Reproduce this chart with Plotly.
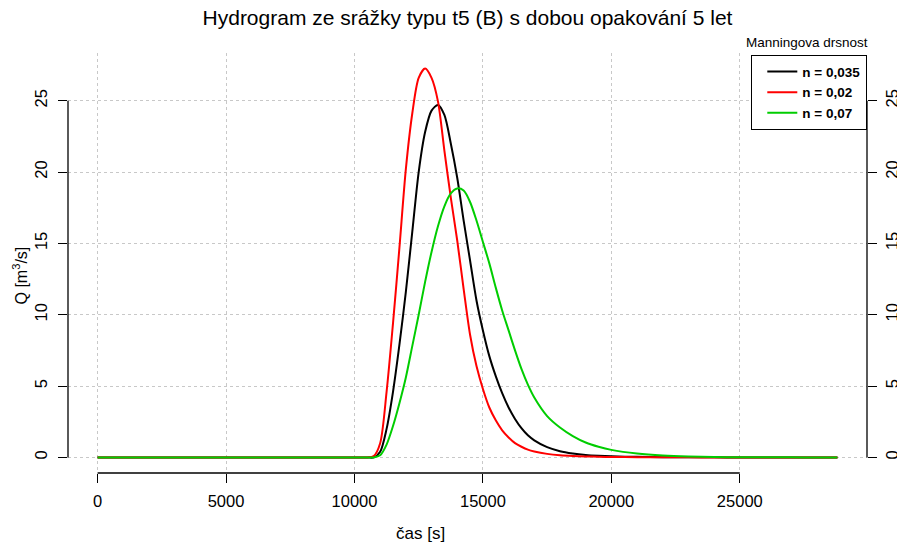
import plotly.graph_objects as go

# ---- data ----
time_s = [0, 2500, 5000, 7500, 10000,
          10500, 10750, 11000, 11250, 11500, 11750, 12000, 12250, 12500, 12750,
          13000, 13250, 13500, 13750, 14000, 14250, 14500, 14750, 15000, 15250,
          15500, 15750, 16000, 16250, 16500, 16750, 17000,
          17500, 18000, 18500, 19000, 19500, 20000,
          21000, 22000, 23000, 24000, 25000, 26000, 27000, 28000, 28800]

q_n035 = [0, 0, 0, 0, 0,
          0, 0.0, 0.4, 2.0, 4.6, 7.9, 11.6, 15.8, 20.0, 22.8,
          24.3, 24.7, 24.0, 22.0, 19.6, 16.6, 13.8, 11.0, 8.9, 7.1,
          5.7, 4.5, 3.5, 2.7, 2.05, 1.55, 1.2,
          0.72, 0.44, 0.28, 0.18, 0.12, 0.08,
          0.04, 0.02, 0.01, 0.005, 0, 0, 0, 0, 0]

q_n02 = [0, 0, 0, 0, 0,
         0, 0.1, 1.0, 4.6, 9.4, 14.7, 20.2, 24.1, 26.6, 27.25,
         26.6, 24.95, 21.5, 18.2, 15.2, 11.8, 8.6, 6.4, 4.8, 3.5,
         2.6, 1.9, 1.4, 1.0, 0.75, 0.55, 0.42,
         0.25, 0.15, 0.1, 0.07, 0.05, 0.03,
         0.02, 0.01, 0.005, 0, 0, 0, 0, 0, 0]

q_n07 = [0, 0, 0, 0, 0,
         0, 0.0, 0.15, 0.9, 2.2, 3.8, 5.6, 7.8, 10.0, 12.3,
         14.4, 16.2, 17.6, 18.5, 18.85, 18.7, 17.9, 16.6, 15.1, 13.6,
         11.9, 10.3, 8.9, 7.5, 6.2, 5.1, 4.2,
         2.9, 2.1, 1.5, 1.05, 0.75, 0.53,
         0.27, 0.13, 0.06, 0.03, 0.015, 0.01, 0.005, 0.002, 0]

series_names = ["n = 0,035", "n = 0,02", "n = 0,07"]
series_colors = ["#000000", "#FF0000", "#00CD00"]

x_ticks = [0, 5000, 10000, 15000, 20000, 25000]
x_tick_labels = ["0", "5000", "10000", "15000", "20000", "25000"]
y_ticks = [0, 5, 10, 15, 20, 25]
y_tick_labels = ["0", "5", "10", "15", "20", "25"]

title_text = "Hydrogram ze srážky typu t5 (B) s dobou opakování 5 let"
x_title = "čas [s]"
y_title = "Q [m<sup>3</sup>/s]"
legend_title = "Manningova drsnost"

# ---- ranges like R (4% extension) ----
xmin, xmax = min(time_s), max(time_s)
all_q = q_n035 + q_n02 + q_n07
ymin, ymax = 0, max(all_q)
xpad = 0.04 * (xmax - xmin)
ypad = 0.04 * (ymax - ymin)
xr = [xmin - xpad, xmax + xpad]
yr = [ymin - ypad, ymax + ypad]

FONT = "Liberation Sans, Arial, sans-serif"
TICK_SIZE = 16.5

# page has an 8px body margin: figure is drawn 8px right/down
OFF = 8
W, H = 905 - OFF, 545 - OFF
PL, PR, PT, PB = 68, 867, 53, 473  # plot area in page pixels
PW, PH = PR - PL, PB - PT

fig = go.Figure()
for name, col, q in zip(series_names, series_colors, [q_n035, q_n02, q_n07]):
    fig.add_trace(go.Scatter(
        x=time_s, y=q, mode="lines", name="<b>" + name + "</b>",
        line=dict(color=col, width=2, shape="spline", smoothing=0.8),
        hoverinfo="x+y",
    ))

# invisible trace to activate right axis
fig.add_trace(go.Scatter(x=[time_s[0]], y=[y_ticks[0]], mode="lines", yaxis="y2",
                         showlegend=False, hoverinfo="skip",
                         line=dict(color="rgba(0,0,0,0)")))

axis_common = dict(
    showgrid=True, gridcolor="#C8C8C8", griddash="dot", gridwidth=1.2,
    zeroline=False, showline=False, automargin=False,
    ticks="outside", ticklen=9, tickwidth=1.3, tickcolor="black",
    tickfont=dict(family=FONT, size=TICK_SIZE, color="black"),
)

fig.update_layout(
    width=W, height=H,
    margin=dict(l=PL - OFF, r=W - (PR - OFF), t=PT - OFF, b=H - (PB - OFF), autoexpand=False),
    paper_bgcolor="white", plot_bgcolor="white",
    font=dict(family=FONT, color="black"),
    title=dict(text=title_text, x=0.5, xref="paper", y=1 - (17.5 - OFF) / H, yref="container",
               xanchor="center", yanchor="middle", automargin=False,
               font=dict(family=FONT, size=21, color="black")),
    xaxis=dict(range=xr, tickvals=x_ticks, ticktext=x_tick_labels, ticklabelstandoff=4,
               **axis_common),
    yaxis=dict(range=yr, tickvals=y_ticks, ticktext=y_tick_labels, tickangle=-90,
               ticklabelstandoff=4, **axis_common),
    yaxis2=dict(range=yr, tickvals=y_ticks, ticktext=y_tick_labels, tickangle=-90,
                overlaying="y", side="right", ticklabelstandoff=1,
                **{**axis_common, "showgrid": False}),
    showlegend=True,
    legend=dict(x=1, xanchor="right", y=(PB - 55) / PH, yanchor="top",
                bgcolor="white", bordercolor="black", borderwidth=1.3,
                font=dict(family=FONT, size=13.5, color="black"),
                indentation=10, tracegroupgap=0),
    shapes=[
        dict(type="line", xref="x", yref="paper", x0=x_ticks[0], x1=x_ticks[-1], y0=0, y1=0,
             line=dict(color="black", width=1.3)),
        dict(type="line", xref="paper", yref="y", x0=0, x1=0, y0=y_ticks[0], y1=y_ticks[-1],
             line=dict(color="black", width=1.3)),
        dict(type="line", xref="paper", yref="y", x0=1, x1=1, y0=y_ticks[0], y1=y_ticks[-1],
             line=dict(color="black", width=1.3)),
    ],
    annotations=[
        dict(text=x_title, xref="paper", yref="paper", x=(420 - PL) / PW, y=(PB - 533) / PH,
             showarrow=False, xanchor="center", yanchor="middle",
             font=dict(family=FONT, size=17, color="black")),
        dict(text=y_title, xref="paper", yref="paper", x=(20.5 - PL) / PW, y=(PB - 276) / PH,
             showarrow=False, xanchor="center", yanchor="middle", textangle=-90,
             font=dict(family=FONT, size=16, color="black")),
        dict(text=legend_title, xref="paper", yref="paper", x=(806.7 - PL) / PW,
             y=(PB - 42.3) / PH, showarrow=False, xanchor="center", yanchor="middle",
             font=dict(family=FONT, size=13.5, color="black")),
    ],
)

fig.write_html("out.html")
